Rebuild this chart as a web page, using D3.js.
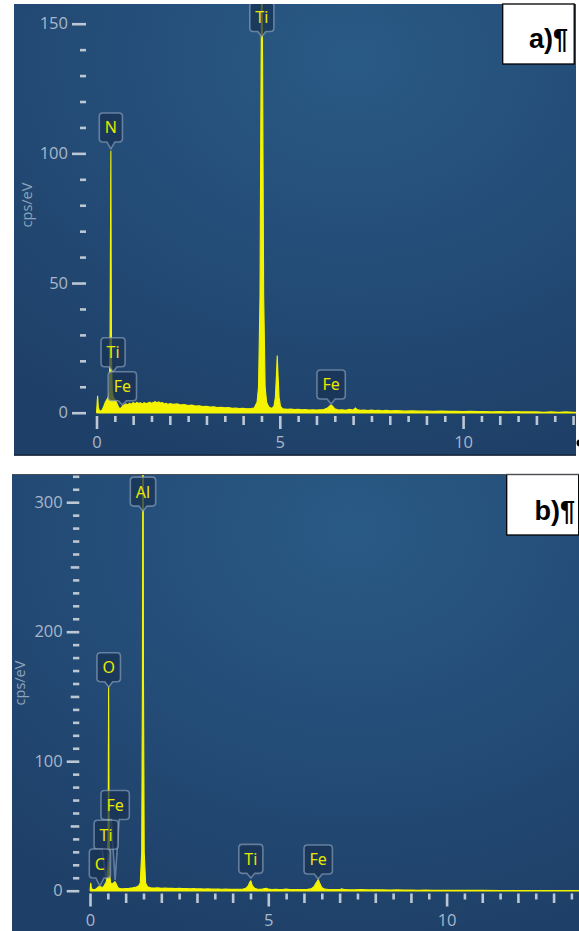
<!DOCTYPE html>
<html>
<head>
<meta charset="utf-8">
<script src="https://cdn.jsdelivr.net/npm/d3@7"></script>
<style>
  html, body { margin: 0; padding: 0; background: #ffffff; }
  svg { display: block; }
</style>
</head>
<body>
<script>
// ---------------- DATA ----------------
// Panel a) spectrum: energy (keV) and intensity (cps/eV)
const energyA = [0.00,0.01,0.03,0.05,0.08,0.12,0.16,0.20,0.24,0.28,0.32,0.35,0.37,0.385,0.392,0.40,0.41,0.43,0.45,0.48,
  0.52,0.56,0.60,0.64,0.68,0.72,0.76,0.80,0.85,0.90,0.95,1.00,1.05,1.10,1.15,1.20,1.25,1.30,1.35,1.40,
  1.45,1.50,1.55,1.60,1.65,1.70,1.75,1.80,1.85,1.90,1.95,2.00,2.10,2.20,2.30,2.40,2.50,2.60,2.70,2.80,
  2.90,3.00,3.10,3.20,3.30,3.40,3.50,3.60,3.70,3.80,3.90,4.00,4.10,4.20,4.30,4.38,4.42,4.46,4.49,4.505,4.515,
  4.53,4.56,4.60,4.64,4.70,4.78,4.84,4.88,4.91,4.93,4.95,4.98,5.02,5.08,5.20,5.30,5.40,5.50,5.60,5.70,
  5.80,5.90,6.00,6.10,6.20,6.30,6.36,6.40,6.44,6.50,6.60,6.70,6.80,6.90,7.00,7.06,7.12,7.20,7.30,7.40,
  7.50,7.60,7.70,7.80,7.90,8.00,8.20,8.40,8.60,8.80,9.00,9.20,9.40,9.60,9.80,10.0,10.2,10.4,10.6,10.8,
  11.0,11.2,11.4,11.6,11.8,12.0,12.2,12.4,12.6,12.8,13.0,13.1];
const cpsA = [0,2,6.5,2,0.8,0.6,1.2,2.5,4,5,6,8,30,80,101,60,20,8,6.5,5.5,
  4.8,3.5,2.2,1.5,2.0,2.8,3.0,3.4,3.1,3.6,3.3,3.9,3.5,4.0,3.6,3.8,3.4,3.9,3.5,3.7,
  4.1,3.6,3.9,4.3,3.8,4.2,3.7,3.9,3.4,3.6,3.2,3.5,3.2,3.4,3.0,3.1,2.8,2.9,2.6,2.7,
  2.4,2.5,2.2,2.3,2.0,2.1,1.9,2.0,1.7,1.8,1.6,1.7,1.5,1.6,1.8,4,10,45,135,168,168,
  135,45,10,4,2.2,1.6,2.5,6,15,22,15,6,2.4,1.5,1.3,1.4,1.2,1.3,1.1,1.2,
  1.0,1.1,1.0,1.1,1.2,1.8,2.6,3.0,2.5,1.5,1.0,1.1,0.9,1.3,1.0,1.8,1.1,0.9,1.0,0.8,
  1.0,0.8,0.9,0.7,0.9,0.7,0.8,0.6,0.7,0.6,0.6,0.5,0.6,0.5,0.5,0.4,0.5,0.4,0.4,0.3,
  0.4,0.3,0.4,0.3,0.3,0.3,0.2,0.3,0.2,0.3,0.2,0.2];

// Panel b) spectrum
const energyB = [0.00,0.01,0.02,0.04,0.07,0.12,0.18,0.22,0.26,0.30,0.34,0.38,0.42,0.46,0.49,0.51,0.522,0.535,0.55,0.58,
  0.62,0.66,0.70,0.74,0.78,0.84,0.90,1.00,1.10,1.20,1.30,1.36,1.41,1.45,1.47,1.48,1.492,1.50,1.52,1.56,1.61,
  1.70,1.80,1.90,2.00,2.10,2.20,2.30,2.40,2.50,2.60,2.70,2.80,2.90,3.00,3.10,3.20,3.30,3.40,3.50,3.60,
  3.70,3.80,3.90,4.00,4.10,4.20,4.30,4.38,4.44,4.49,4.51,4.55,4.62,4.70,4.80,4.90,4.95,5.00,5.10,5.20,
  5.30,5.40,5.50,5.60,5.70,5.80,5.90,6.00,6.10,6.20,6.28,6.34,6.40,6.44,6.50,6.58,6.70,6.80,6.90,7.00,
  7.06,7.12,7.20,7.40,7.60,7.80,8.00,8.20,8.40,8.60,8.80,9.00,9.20,9.40,9.60,9.80,10.0,10.5,11.0,11.5,
  12.0,12.5,13.0,13.5,13.8];
const cpsB = [0,3,6,2,1,0.8,1.5,2.5,3.5,3,2.5,3,5,7,12,60,158,60,12,6,
  5,6,7,5,2.5,1.6,1.4,1.6,1.8,2.2,2.8,3.6,6,30,160,330,330,160,30,6,3,
  2.2,2.0,2.2,1.9,2.0,1.8,1.9,1.7,1.8,1.6,1.7,1.5,1.6,1.4,1.5,1.3,1.4,1.3,1.2,1.3,
  1.1,1.2,1.0,1.1,1.0,1.1,1.3,2,4,7,7.5,4,1.8,1.1,1.0,1.6,1.9,1.2,0.9,1.0,
  0.8,0.9,1.2,0.9,0.8,0.9,0.8,0.9,1.0,1.4,3,6,8.5,6,2.5,1.2,0.9,0.8,0.9,0.8,
  1.5,0.9,0.8,0.7,0.8,0.6,0.7,0.6,0.5,0.6,0.5,0.5,0.4,0.5,0.4,0.4,0.3,0.3,0.3,0.2,
  0.2,0.2,0.2,0.2,0.2];

// Peak markers (element, energy keV, box-bottom level and tip level in cps/eV)
const markNamesA  = ["N", "Ti", "Ti", "Fe", "Fe"];
const markEnergyA = [0.392, 4.51, 0.452, 0.705, 6.40];
const markBoxA    = [104.4, 147, 17.7, 4.6, 5.3];
const markTipA    = [101.7, 145, 15.7, 3.0, 3.4];

const markNamesB  = ["Al", "O", "Fe", "Ti", "C", "Ti", "Fe"];
const markEnergyB = [1.486, 0.525, 0.705, 0.452, 0.277, 4.51, 6.40];
const markBoxB    = [297, 161.4, 55, 32, 9.8, 13.4, 12.9];
const markTipB    = [293, 157.3, 8.3, 9.0, 3.6, 9.8, 9.0];

// Axis ticks
const xMajorTicks = [0, 5, 10];
const yMajorA = [0, 50, 100, 150];
const yMajorB = [0, 100, 200, 300];
const yMidB = [50, 150, 250];
const yUnit = "cps/eV";
const panelTags = ["a)¶", "b)¶"];

// ---------------- DRAW ----------------
const W = 579, H = 931;
const svg = d3.select("body").append("svg").attr("width", W).attr("height", H);
const defs = svg.append("defs");

const tickColor = "#bcc7d4";
const labelColor = "#a9b7c8";
const yellow = "#f4f400";
const uiFont = "'Open Sans', 'Noto Sans', sans-serif";

function makeGrad(id) {
  const g = defs.append("radialGradient").attr("id", id)
    .attr("cx", "60%").attr("cy", "12%").attr("r", "95%");
  g.append("stop").attr("offset", "0%").attr("stop-color", "#295a85");
  g.append("stop").attr("offset", "55%").attr("stop-color", "#234b76");
  g.append("stop").attr("offset", "100%").attr("stop-color", "#1e3f67");
}

function calloutPath(x0, y0, w, h, r, px, ty, tw) {
  const x1 = x0 + w, y1 = y0 + h, cx = x0 + w / 2;
  return `M${x0 + r},${y0} H${x1 - r} Q${x1},${y0} ${x1},${y0 + r} V${y1 - r} Q${x1},${y1} ${x1 - r},${y1}` +
    ` H${cx + tw} L${px},${ty} L${cx - tw},${y1} H${x0 + r} Q${x0},${y1} ${x0},${y1 - r} V${y0 + r} Q${x0},${y0} ${x0 + r},${y0} Z`;
}

function drawPanel(c) {
  const g = svg.append("g");
  makeGrad("grad" + c.id);
  defs.append("clipPath").attr("id", "clip" + c.id)
    .append("rect").attr("x", c.left).attr("y", c.top)
    .attr("width", c.right - c.left).attr("height", c.bottom - c.top);

  g.append("rect").attr("x", c.left).attr("y", c.top)
    .attr("width", c.right - c.left).attr("height", c.bottom - c.top)
    .attr("fill", `url(#grad${c.id})`);

  const x = d3.scaleLinear().domain([0, 5]).range(c.xRange);
  const y = d3.scaleLinear().domain(c.yDomain).range(c.yRange);

  // Y axis
  const yAxisG = g.append("g").attr("transform", `translate(${c.yAxisX},0)`);
  const styleAxis = sel => {
    sel.select(".domain").remove();
    sel.selectAll(".tick line").attr("stroke", tickColor).attr("stroke-width", 2.6);
    sel.selectAll(".tick text").attr("fill", labelColor)
      .style("font-family", uiFont).style("font-size", "16.5px");
  };
  yAxisG.append("g").call(d3.axisLeft(y).tickValues(c.yMinor).tickSize(c.yMinorLen).tickFormat(() => "")).call(styleAxis);
  if (c.yMid) yAxisG.append("g").call(d3.axisLeft(y).tickValues(c.yMid).tickSize(c.yMidLen).tickFormat(() => "")).call(styleAxis);
  yAxisG.append("g").call(d3.axisLeft(y).tickValues(c.yMajor).tickSize(c.yMajorLen).tickPadding(c.yPad).tickFormat(d3.format("d"))).call(styleAxis);

  // X axis
  const xAxisG = g.append("g").attr("transform", `translate(0,${c.xAxisY})`);
  xAxisG.append("g").call(d3.axisBottom(x).tickValues(c.xHalf).tickSize(c.xLens[2]).tickFormat(() => "")).call(styleAxis);
  xAxisG.append("g").call(d3.axisBottom(x).tickValues(c.xInt).tickSize(c.xLens[1]).tickFormat(() => "")).call(styleAxis);
  xAxisG.append("g").call(d3.axisBottom(x).tickValues(xMajorTicks).tickSize(c.xLens[0]).tickPadding(c.xPad).tickFormat(d3.format("d"))).call(styleAxis);

  // Y unit label
  g.append("text").attr("transform", `translate(${c.unitPos[0]},${c.unitPos[1]}) rotate(-90)`)
    .attr("text-anchor", "middle").attr("dy", "0.35em")
    .attr("fill", "#8ea3ba").style("font-family", uiFont).style("font-size", "14.5px")
    .text(yUnit);

  // Spectrum
  const plot = g.append("g").attr("clip-path", `url(#clip${c.id})`);
  const pts = c.energy.map((e, i) => [e, c.cps[i]]);
  const area = d3.area().x(d => x(d[0])).y0(y(0)).y1(d => y(d[1]));
  const line = d3.line().x(d => x(d[0])).y(d => y(d[1]));
  plot.append("path").datum(pts).attr("d", area).attr("fill", yellow);
  plot.append("path").datum(pts).attr("d", line).attr("fill", "none").attr("stroke", yellow).attr("stroke-width", 1.1);
  plot.append("line").attr("x1", x(0)).attr("x2", c.right).attr("y1", y(0)).attr("y2", y(0))
    .attr("stroke", yellow).attr("stroke-width", 1.6);

  // Markers
  const boxH = 29;
  c.names.forEach((nm, i) => {
    const px = x(c.markE[i]);
    const bBottom = y(c.markBox[i]);
    const tip = y(c.markTip[i]);
    const t = plot.append("text").text(nm)
      .style("font-family", "'Noto Sans', 'Open Sans', sans-serif").style("font-size", "16px");
    const tw = t.node().getComputedTextLength();
    const w = Math.max(tw + 11, 18);
    const x0 = px - w / 2, y0 = bBottom - boxH;
    plot.insert("path", () => t.node())
      .attr("d", calloutPath(x0, y0, w, boxH, 3.5, px, tip, 4))
      .attr("fill", "rgba(24,48,82,0.72)")
      .attr("stroke", "rgba(150,170,195,0.6)").attr("stroke-width", 1.6);
    t.attr("x", px).attr("y", y0 + boxH / 2 + 6).attr("text-anchor", "middle").attr("fill", "#e8e800");
  });

  // Panel tag box
  g.append("rect").attr("x", c.tagBox[0]).attr("y", c.tagBox[1]).attr("width", c.tagBox[2]).attr("height", c.tagBox[3])
    .attr("fill", "#ffffff").attr("stroke", "#000").attr("stroke-width", 1.3);
  g.append("text").attr("x", c.tagText[0]).attr("y", c.tagText[1]).attr("text-anchor", "end")
    .style("font-family", "'Liberation Sans', Arial, sans-serif").style("font-weight", "bold").style("font-size", "27px")
    .attr("fill", "#000").text(c.tag);
}

const halfTicks = (max) => d3.range(0.5, max + 0.01, 1);
const intTicks = (max) => d3.range(1, max + 0.01, 1).filter(v => v % 5 !== 0);

drawPanel({
  id: "A", left: 14, top: 4, right: 576, bottom: 455.5,
  xRange: [96.5, 279.8], yDomain: [0, 150], yRange: [412.7, 23.7],
  yAxisX: 86, yMajor: yMajorA, yMinor: d3.range(10, 161, 10).filter(v => v % 50 !== 0),
  yMajorLen: 14, yMinorLen: 6, yPad: 4,
  xAxisY: 416, xLens: [13, 9, 6], xPad: 7,
  xHalf: halfTicks(13), xInt: intTicks(13),
  unitPos: [27, 205],
  energy: energyA, cps: cpsA,
  names: markNamesA, markE: markEnergyA, markBox: markBoxA, markTip: markTipA,
  tag: panelTags[0], tagBox: [502.7, 4, 71.5, 60], tagText: [568, 48]
});

drawPanel({
  id: "B", left: 12, top: 474.5, right: 579, bottom: 931,
  xRange: [90, 268.3], yDomain: [0, 300], yRange: [890.7, 502.2],
  yAxisX: 79.3, yMajor: yMajorB, yMid: yMidB, yMinor: d3.range(10, 321, 10).filter(v => v % 50 !== 0),
  yMajorLen: 12.6, yMidLen: 8.6, yMinorLen: 6.3, yPad: 4,
  xAxisY: 893.5, xLens: [13, 9.5, 6], xPad: 8,
  xHalf: halfTicks(13.5), xInt: intTicks(13.5),
  unitPos: [20, 683],
  energy: energyB, cps: cpsB,
  names: markNamesB, markE: markEnergyB, markBox: markBoxB, markTip: markTipB,
  tag: panelTags[1], tagBox: [506.7, 474.5, 72, 60.5], tagText: [575, 520]
});

// panel edges
svg.append("line").attr("x1", 14).attr("x2", 576).attr("y1", 455).attr("y2", 455).attr("stroke", "#17263a").attr("stroke-width", 1.5);
svg.append("line").attr("x1", 12).attr("x2", 579).attr("y1", 474.5).attr("y2", 474.5).attr("stroke", "#4a4f57").attr("stroke-width", 1.2);
svg.append("circle").attr("cx", 580).attr("cy", 443).attr("r", 3.5).attr("fill", "#000");
</script>
</body>
</html>
